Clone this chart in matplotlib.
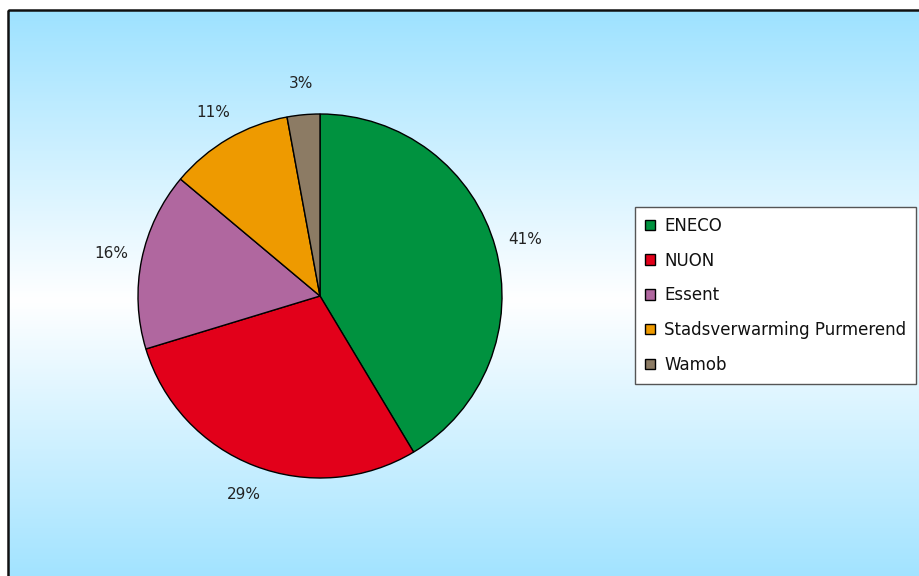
import numpy as np
import matplotlib
matplotlib.use("Agg")
import matplotlib.pyplot as plt
from matplotlib.patches import Rectangle, Patch
from matplotlib.colors import LinearSegmentedColormap

labels = ["ENECO", "NUON", "Essent", "Stadsverwarming Purmerend", "Wamob"]
values = [41.4, 28.9, 15.8, 11.0, 2.9]
colors = ["#00923f", "#e2001a", "#b0679f", "#ee9a00", "#8c7b64"]

W, H = 919, 576
fig = plt.figure(figsize=(W / 100, H / 100), dpi=100)
fig.patch.set_facecolor("white")

# background with gradient and border
bg = fig.add_axes([0, 0, 1, 1], zorder=0)
bg.set_xlim(0, W)
bg.set_ylim(H, 0)
bg.axis("off")
ys = np.linspace(0, 1, 400).reshape(-1, 1)
cmap = LinearSegmentedColormap.from_list(
    "bgc", [(0.0, "#9ee2ff"), (0.5, "#ffffff"), (1.0, "#9ee2ff")])
bg.imshow(ys, cmap=cmap, aspect="auto", extent=[8, W + 10, 590, 10],
          interpolation="bilinear")
bg.add_patch(Rectangle((8, 10), W + 20, H + 20, fill=False,
                       edgecolor="#111111", linewidth=1.8))
bg.set_xlim(0, W)
bg.set_ylim(H, 0)

# pie
cx, cy, r = 320, 296, 182
ax = fig.add_axes([(cx - r) / W, (H - cy - r) / H, 2 * r / W, 2 * r / H], zorder=1)
wedges, texts, autotexts = ax.pie(
    values, colors=colors, startangle=90, counterclock=False,
    autopct="%1.0f%%", pctdistance=1.17,
    wedgeprops=dict(edgecolor="black", linewidth=1.0),
    textprops=dict(fontsize=11, color="#222222", family="DejaVu Sans"))
ax.set_xlim(-1, 1)
ax.set_ylim(-1, 1)
ax.set_aspect("auto")
ax.axis("off")

handles = [Patch(facecolor=c, edgecolor="black", linewidth=1.0) for c in colors]
leg = fig.legend(handles, labels, loc="upper left",
                 bbox_to_anchor=(635 / W, 1 - 207 / H),
                 frameon=True, fancybox=False, framealpha=1,
                 edgecolor="#555555", facecolor="white",
                 prop=dict(family="DejaVu Sans", size=12),
                 handlelength=0.6, handleheight=0.6, handletextpad=0.55,
                 labelspacing=1.0, borderpad=0.6, borderaxespad=0)
leg.get_frame().set_linewidth(1.0)
for t in leg.get_texts():
    t.set_color("#111111")
leg.set_zorder(5)

fig.savefig("out.png", dpi=100)
